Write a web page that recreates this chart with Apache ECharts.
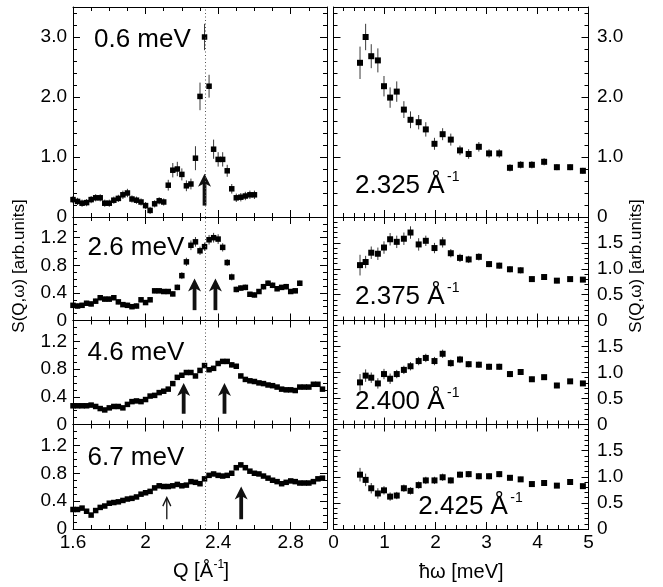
<!DOCTYPE html>
<html>
<head>
<meta charset="utf-8">
<script src="https://cdn.jsdelivr.net/npm/echarts@6/dist/echarts.min.js"></script>
<style>
  html, body { margin: 0; padding: 0; background: #fff; }
  #chart { width: 663px; height: 587px; }
</style>
</head>
<body>
<div id="chart"></div>
<script>
// ---- Constant-energy cuts S(Q) on a common Q grid (Å^-1) ----
const qGrid = [1.600, 1.625, 1.650, 1.675, 1.700, 1.725, 1.750, 1.775, 1.800, 1.825,
  1.850, 1.875, 1.900, 1.925, 1.950, 1.975, 2.000, 2.025, 2.050, 2.075,
  2.100, 2.125, 2.150, 2.175, 2.200, 2.225, 2.250, 2.275, 2.300, 2.325,
  2.350, 2.375, 2.400, 2.425, 2.450, 2.475, 2.500, 2.525, 2.550, 2.575,
  2.600, 2.625, 2.650, 2.675, 2.700, 2.725, 2.750, 2.775, 2.800, 2.825,
  2.850, 2.875, 2.900, 2.925, 2.950, 2.975];

const cut06 = [0.29, 0.26, 0.23, 0.24, 0.29, 0.32, 0.32, 0.23, 0.23, 0.28,
  0.31, 0.37, 0.40, 0.30, 0.28, 0.25, 0.19, 0.11, 0.22, 0.27,
  0.25, 0.53, 0.78, 0.80, 0.71, 0.52, 0.55, 0.98, 2.01, 3.00,
  2.18, 1.13, 0.96, 0.96, 0.77, 0.47, 0.32, 0.33, 0.35, 0.37, 0.37];
const cut06Err = [0.06, 0.06, 0.06, 0.06, 0.06, 0.06, 0.06, 0.06, 0.06, 0.06,
  0.06, 0.07, 0.07, 0.06, 0.06, 0.06, 0.06, 0.06, 0.06, 0.06,
  0.06, 0.09, 0.12, 0.12, 0.10, 0.09, 0.09, 0.20, 0.23, 0.22,
  0.19, 0.16, 0.12, 0.12, 0.10, 0.08, 0.07, 0.07, 0.07, 0.07, 0.07];

const cut26 = [0.22, 0.21, 0.22, 0.25, 0.24, 0.28, 0.33, 0.31, 0.31, 0.33,
  0.27, 0.23, 0.22, 0.20, 0.21, 0.30, 0.26, 0.30, 0.43, 0.43,
  0.42, 0.42, 0.385, 0.48, 0.65, 0.85, 1.09, 1.14, 1.01, 1.07,
  1.17, 1.20, 1.18, 1.06, 0.84, 0.63, 0.45, 0.47, 0.48, 0.38,
  0.37, 0.42, 0.49, 0.54, 0.51, 0.46, 0.48, 0.49, 0.42, 0.43, 0.54];
const cut26Err = [0.035, 0.035, 0.035, 0.035, 0.035, 0.035, 0.035, 0.035, 0.035, 0.035,
  0.035, 0.035, 0.035, 0.035, 0.035, 0.035, 0.035, 0.035, 0.035, 0.035,
  0.035, 0.035, 0.035, 0.04, 0.05, 0.06, 0.07, 0.07, 0.06, 0.06,
  0.07, 0.07, 0.07, 0.06, 0.05, 0.05, 0.04, 0.04, 0.04, 0.035,
  0.035, 0.035, 0.04, 0.04, 0.04, 0.035, 0.035, 0.04, 0.035, 0.035, 0.04];

const cut46 = [0.27, 0.27, 0.27, 0.27, 0.28, 0.26, 0.23, 0.21, 0.24, 0.26,
  0.26, 0.24, 0.29, 0.33, 0.34, 0.33, 0.36, 0.41, 0.42, 0.46,
  0.48, 0.51, 0.59, 0.68, 0.71, 0.75, 0.75, 0.70, 0.78, 0.85,
  0.79, 0.81, 0.88, 0.91, 0.91, 0.86, 0.84, 0.70, 0.65, 0.63,
  0.62, 0.60, 0.59, 0.57, 0.56, 0.54, 0.51, 0.50, 0.50, 0.49,
  0.54, 0.54, 0.54, 0.58, 0.58, 0.51];
const cut46Err = [0.025, 0.025, 0.025, 0.025, 0.025, 0.025, 0.025, 0.025, 0.025, 0.025,
  0.025, 0.025, 0.025, 0.025, 0.025, 0.025, 0.025, 0.025, 0.025, 0.025,
  0.025, 0.025, 0.03, 0.03, 0.03, 0.03, 0.03, 0.03, 0.035, 0.035,
  0.035, 0.035, 0.035, 0.035, 0.035, 0.035, 0.035, 0.03, 0.03, 0.03,
  0.03, 0.03, 0.03, 0.03, 0.03, 0.03, 0.03, 0.03, 0.03, 0.03,
  0.03, 0.03, 0.03, 0.03, 0.03, 0.03];

const cut67 = [0.28, 0.28, 0.30, 0.255, 0.20, 0.265, 0.31, 0.33, 0.37, 0.38,
  0.39, 0.41, 0.43, 0.44, 0.46, 0.50, 0.52, 0.54, 0.59, 0.62,
  0.61, 0.61, 0.62, 0.64, 0.62, 0.63, 0.68, 0.67, 0.65, 0.72,
  0.77, 0.79, 0.77, 0.76, 0.77, 0.80, 0.88, 0.92, 0.88, 0.83,
  0.80, 0.79, 0.76, 0.73, 0.70, 0.68, 0.65, 0.67, 0.69, 0.68,
  0.66, 0.66, 0.66, 0.68, 0.72, 0.73];
const cut67Err = [0.025, 0.025, 0.025, 0.025, 0.025, 0.025, 0.025, 0.025, 0.025, 0.025,
  0.025, 0.025, 0.025, 0.025, 0.025, 0.025, 0.025, 0.025, 0.025, 0.025,
  0.025, 0.025, 0.025, 0.025, 0.025, 0.025, 0.03, 0.03, 0.03, 0.03,
  0.03, 0.03, 0.03, 0.03, 0.03, 0.03, 0.035, 0.035, 0.035, 0.03,
  0.03, 0.03, 0.03, 0.03, 0.03, 0.03, 0.03, 0.03, 0.03, 0.03,
  0.03, 0.03, 0.03, 0.03, 0.03, 0.03];

// Arrows marking mode positions: [Q, tail value, tip value, heavy?]
const arrows06 = [[2.325, 0.19, 0.72, 1]];
const arrows26 = [[2.27, 0.15, 0.61, 1], [2.385, 0.15, 0.61, 1]];
const arrows46 = [[2.21, 0.155, 0.60, 1], [2.435, 0.155, 0.60, 1]];
const arrows67 = [[2.117, 0.14, 0.45, 0], [2.527, 0.14, 0.61, 1]];

// ---- Constant-Q cuts S(omega) on a common energy grid (meV) ----
const omegaGrid = [0.52, 0.63, 0.74, 0.87, 0.99, 1.11, 1.24, 1.38, 1.51, 1.67,
  1.81, 1.98, 2.14, 2.30, 2.48, 2.65, 2.85, 3.05, 3.25, 3.46,
  3.67, 3.89, 4.13, 4.38, 4.64, 4.89];

const cutQ2325 = [2.57, 3.00, 2.68, 2.61, 2.18, 1.99, 2.09, 1.79, 1.62, 1.58,
  1.46, 1.22, 1.38, 1.29, 1.11, 1.05, 1.17, 1.06, 1.06, 0.82,
  0.87, 0.87, 0.92, 0.83, 0.83, 0.77];
const cutQ2325Err = [0.27, 0.22, 0.20, 0.20, 0.17, 0.17, 0.17, 0.14, 0.14, 0.12,
  0.12, 0.10, 0.10, 0.10, 0.08, 0.08, 0.08, 0.07, 0.07, 0.06,
  0.06, 0.06, 0.06, 0.05, 0.05, 0.05];

const cutQ2375 = [1.07, 1.13, 1.31, 1.29, 1.41, 1.57, 1.52, 1.58, 1.70, 1.47,
  1.54, 1.40, 1.51, 1.30, 1.21, 1.18, 1.23, 1.09, 1.06, 0.99,
  0.97, 0.80, 0.84, 0.77, 0.80, 0.79];
const cutQ2375Err = [0.20, 0.12, 0.12, 0.12, 0.12, 0.12, 0.12, 0.12, 0.12, 0.12,
  0.10, 0.10, 0.10, 0.08, 0.08, 0.07, 0.07, 0.06, 0.06, 0.06,
  0.06, 0.05, 0.05, 0.05, 0.04, 0.04];

const cutQ2400 = [0.81, 0.94, 0.90, 0.79, 0.97, 0.88, 0.97, 1.05, 1.12, 1.22,
  1.28, 1.22, 1.36, 1.18, 1.25, 1.16, 1.15, 1.11, 1.11, 0.97,
  1.01, 0.87, 0.91, 0.75, 0.83, 0.79];
const cutQ2400Err = [0.16, 0.12, 0.10, 0.10, 0.10, 0.10, 0.08, 0.08, 0.08, 0.08,
  0.08, 0.08, 0.08, 0.07, 0.07, 0.06, 0.06, 0.06, 0.06, 0.06,
  0.05, 0.05, 0.05, 0.05, 0.04, 0.04];

const cutQ2425 = [1.04, 0.94, 0.78, 0.68, 0.74, 0.62, 0.64, 0.78, 0.73, 0.84,
  0.93, 0.93, 0.99, 0.93, 1.04, 1.05, 1.01, 1.01, 1.05, 0.98,
  0.95, 0.86, 0.88, 0.83, 0.90, 0.82];
const cutQ2425Err = [0.13, 0.12, 0.10, 0.10, 0.08, 0.08, 0.07, 0.07, 0.07, 0.07,
  0.07, 0.07, 0.07, 0.06, 0.06, 0.06, 0.06, 0.06, 0.06, 0.05,
  0.05, 0.05, 0.05, 0.04, 0.04, 0.04];

const energyLabels = ['0.6 meV', '2.6 meV', '4.6 meV', '6.7 meV'];
const momentumLabels = ['2.325 Å', '2.375 Å', '2.400 Å', '2.425 Å'];
const yTitle = 'S(Q,ω) [arb.units]';
const markerQ = 2.325;

// ---- layout ----
const FONT = '"Liberation Sans", Arial, Helvetica, sans-serif';
const rowTop = [7, 217, 320.5, 424.5];
const rowHeight = [210, 103.5, 104, 104.5];
const colLeft = [73, 333.5];
const colWidth = [254, 255];

const leftCuts = [
  { vals: cut06, err: cut06Err, arrows: arrows06 },
  { vals: cut26, err: cut26Err, arrows: arrows26 },
  { vals: cut46, err: cut46Err, arrows: arrows46 },
  { vals: cut67, err: cut67Err, arrows: arrows67 }
];
const rightCuts = [
  { vals: cutQ2325, err: cutQ2325Err },
  { vals: cutQ2375, err: cutQ2375Err },
  { vals: cutQ2400, err: cutQ2400Err },
  { vals: cutQ2425, err: cutQ2425Err }
];

const yFmt = v => (v === 0 ? '0' : v.toFixed(1));

function makeAxis(o) {
  return {
    type: 'value',
    gridIndex: o.grid,
    position: o.position,
    min: o.min, max: o.max, interval: o.interval,
    axisLine: { show: true, onZero: false, lineStyle: { color: '#000', width: 1 } },
    axisTick: { show: true, inside: true, length: 7, lineStyle: { color: '#000', width: 1 } },
    minorTick: { show: true, splitNumber: o.minor, length: 4, lineStyle: { color: '#000', width: 1 } },
    splitLine: { show: false },
    minorSplitLine: { show: false },
    axisLabel: {
      show: !!o.labels,
      color: '#000',
      fontFamily: FONT,
      fontSize: 19,
      margin: o.margin || 6,
      showMinLabel: true,
      showMaxLabel: !!o.showMax,
      formatter: o.formatter
    },
    z: 5
  };
}

const grids = [], xAxes = [], yAxes = [], series = [];

function errorBarSeries(gi, xs, vals, errs) {
  return {
    type: 'custom',
    xAxisIndex: 2 * gi, yAxisIndex: 2 * gi,
    silent: true,
    z: 2,
    encode: { x: 0, y: [1, 2] },
    data: vals.map((v, i) => [xs[i], v - errs[i], v + errs[i]]),
    renderItem: (params, api) => {
      const p0 = api.coord([api.value(0), api.value(1)]);
      const p1 = api.coord([api.value(0), api.value(2)]);
      return {
        type: 'line',
        shape: { x1: p0[0], y1: p0[1], x2: p1[0], y2: p1[1] },
        style: { stroke: '#3a3a3a', lineWidth: 1 }
      };
    }
  };
}

function pointSeries(gi, xs, vals, size, withMarker) {
  const s = {
    type: 'scatter',
    xAxisIndex: 2 * gi, yAxisIndex: 2 * gi,
    symbol: 'rect',
    symbolSize: size,
    itemStyle: { color: '#000', opacity: 1 },
    silent: true,
    z: 3,
    data: vals.map((v, i) => [xs[i], v])
  };
  if (withMarker) {
    s.markLine = {
      silent: true,
      symbol: 'none',
      label: { show: false },
      lineStyle: { color: '#555', width: 1, type: [1, 2.5] },
      emphasis: { disabled: true },
      data: [{ xAxis: markerQ }]
    };
  }
  return s;
}

function arrowSeries(gi, arrows) {
  return {
    type: 'custom',
    xAxisIndex: 2 * gi, yAxisIndex: 2 * gi,
    silent: true,
    z: 4,
    encode: { x: 0, y: [1, 2] },
    data: arrows,
    renderItem: (params, api) => {
      const q = api.value(0);
      const b = api.coord([q, api.value(1)]);
      const t = api.coord([q, api.value(2)]);
      const x = t[0], ty = t[1], by = b[1];
      if (api.value(3)) {
        return {
          type: 'group',
          children: [
            { type: 'rect', shape: { x: x - 1.9, y: ty + 8, width: 3.8, height: by - ty - 8 }, style: { fill: '#111' } },
            { type: 'polygon', shape: { points: [[x, ty], [x + 6.5, ty + 13], [x, ty + 9.5], [x - 6.5, ty + 13]] }, style: { fill: '#111' } }
          ]
        };
      }
      return {
        type: 'group',
        children: [
          { type: 'line', shape: { x1: x, y1: by, x2: x, y2: ty + 1 }, style: { stroke: '#111', lineWidth: 1.3 } },
          { type: 'polyline', shape: { points: [[x - 4, ty + 8.5], [x, ty], [x + 4, ty + 8.5]] }, style: { stroke: '#111', lineWidth: 1.3, fill: null } }
        ]
      };
    }
  };
}

for (let r = 0; r < 4; r++) {
  for (let c = 0; c < 2; c++) {
    const gi = r * 2 + c;
    grids.push({ left: colLeft[c], top: rowTop[r], width: colWidth[c], height: rowHeight[r], containLabel: false });
    const last = r === 3;
    if (c === 0) {
      const xo = { grid: gi, min: 1.6, max: 3.0, interval: 0.4, minor: 4 };
      xAxes.push(makeAxis(Object.assign({}, xo, { position: 'bottom', labels: last, margin: 4 })));
      xAxes.push(makeAxis(Object.assign({}, xo, { position: 'top', labels: false })));
      const yo = r === 0 ? { min: 0, max: 3.5, interval: 1, minor: 5 } : { min: 0, max: 1.5, interval: 0.4, minor: 4 };
      yAxes.push(makeAxis(Object.assign({ grid: gi, position: 'left', labels: true, margin: 6, formatter: yFmt }, yo)));
      yAxes.push(makeAxis(Object.assign({ grid: gi, position: 'right', labels: false }, yo)));
      const cut = leftCuts[r];
      const xs = qGrid.slice(0, cut.vals.length);
      series.push(errorBarSeries(gi, xs, cut.vals, cut.err));
      series.push(pointSeries(gi, xs, cut.vals, 5.5, true));
      series.push(arrowSeries(gi, cut.arrows));
    } else {
      const xo = { grid: gi, min: 0, max: 5, interval: 1, minor: 5 };
      xAxes.push(makeAxis(Object.assign({}, xo, { position: 'bottom', labels: last, margin: 4, showMax: true })));
      xAxes.push(makeAxis(Object.assign({}, xo, { position: 'top', labels: false })));
      const yo = r === 0 ? { min: 0, max: 3.5, interval: 1, minor: 5 } : { min: 0, max: 2.0, interval: 0.5, minor: 5 };
      yAxes.push(makeAxis(Object.assign({ grid: gi, position: 'left', labels: false }, yo)));
      yAxes.push(makeAxis(Object.assign({ grid: gi, position: 'right', labels: true, margin: 8.5, formatter: yFmt }, yo)));
      const cut = rightCuts[r];
      series.push(errorBarSeries(gi, omegaGrid, cut.vals, cut.err));
      series.push(pointSeries(gi, omegaGrid, cut.vals, 6, false));
    }
  }
}

// ---- panel annotations and axis titles ----
function txt(x, y, text, size, extra) {
  return Object.assign({
    type: 'text', x: x, y: y, silent: true, z: 10,
    style: { text: text, fontFamily: FONT, fontSize: size, fill: '#000', align: 'left', verticalAlign: 'middle' }
  }, extra || {});
}
const energyPos = [[94, 40], [87.5, 247.5], [87.5, 353], [87.5, 458]];
const momentumPos = [[355, 185.5], [355, 297], [355, 402], [418.3, 506.5]];
const graphic = [];
energyLabels.forEach((t, i) => graphic.push(txt(energyPos[i][0], energyPos[i][1], t, 26)));
momentumLabels.forEach((t, i) => {
  graphic.push(txt(momentumPos[i][0], momentumPos[i][1], t, 26));
  graphic.push(txt(momentumPos[i][0] + 92, momentumPos[i][1] - 8.5, '-1', 14));
});
// x titles
graphic.push(txt(173, 571, 'Q [Å', 20));
graphic.push(txt(213.5, 565, '-1', 12));
graphic.push(txt(223.5, 571, ']', 20));
graphic.push(txt(419, 572, 'ħω [meV]', 20));
// y titles
graphic.push({ type: 'text', x: 19.5, y: 266, rotation: Math.PI / 2, silent: true, z: 10,
  style: { text: yTitle, fontFamily: FONT, fontSize: 17, fill: '#000', align: 'center', verticalAlign: 'middle' } });
graphic.push({ type: 'text', x: 636, y: 266, rotation: Math.PI / 2, silent: true, z: 10,
  style: { text: yTitle, fontFamily: FONT, fontSize: 17, fill: '#000', align: 'center', verticalAlign: 'middle' } });

const chart = echarts.init(document.getElementById('chart'), null, { renderer: 'canvas' });
chart.setOption({
  animation: false,
  backgroundColor: '#fff',
  textStyle: { fontFamily: FONT },
  grid: grids,
  xAxis: xAxes,
  yAxis: yAxes,
  series: series,
  graphic: graphic
});
</script>
</body>
</html>
